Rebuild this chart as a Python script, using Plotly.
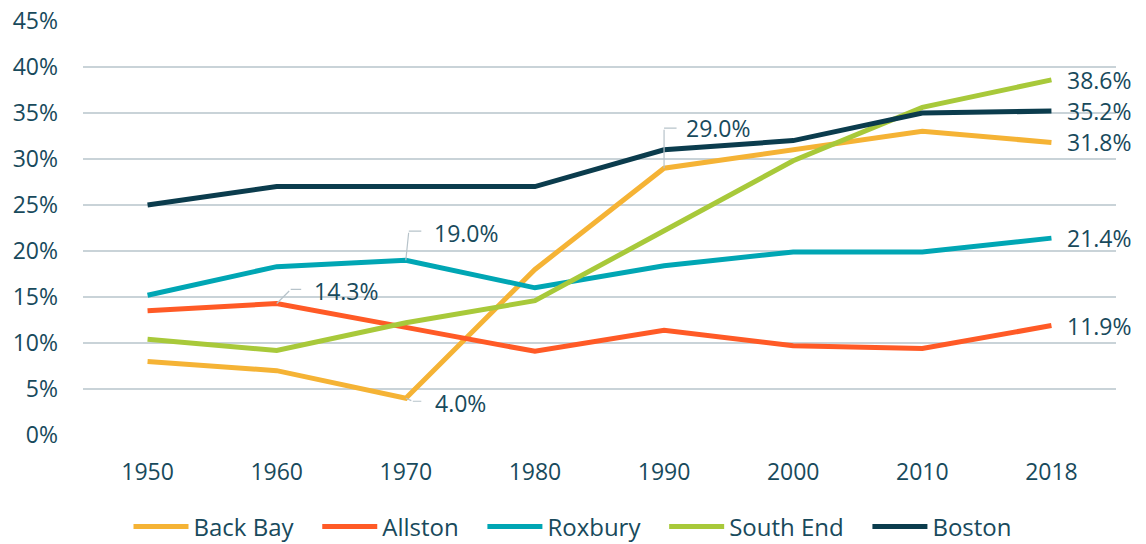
import plotly.graph_objects as go

years = ["1950", "1960", "1970", "1980", "1990", "2000", "2010", "2018"]
back_bay = [8.0, 7.0, 4.0, 18.0, 29.0, 31.0, 33.0, 31.8]
allston = [13.5, 14.3, 11.7, 9.1, 11.4, 9.7, 9.4, 11.9]
roxbury = [15.2, 18.3, 19.0, 16.0, 18.4, 19.9, 19.9, 21.4]
south_end = [10.4, 9.2, 12.2, 14.6, 22.2, 29.8, 35.6, 38.6]
boston = [25.0, 27.0, 27.0, 27.0, 31.0, 32.0, 35.0, 35.2]
y_ticks = [0, 5, 10, 15, 20, 25, 30, 35, 40, 45]

series = [
    ("Back Bay", back_bay, "#f5b335"),
    ("Allston", allston, "#ff5a26"),
    ("Roxbury", roxbury, "#00a6b4"),
    ("South End", south_end, "#a8c93a"),
    ("Boston", boston, "#0b3c4d"),
]

TXT = "#184a5c"
FONT = "Open Sans"
LEAD = "#b7c3ca"
FS = 23

fig = go.Figure()
for k, (name, vals, col) in enumerate(series):
    label = name if k == len(series) - 1 else name + "\u00a0\u00a0\u00a0"
    fig.add_trace(go.Scatter(x=years, y=vals, mode="lines", name=label,
                             line=dict(color=col, width=5)))

last = len(years) - 1
annotations = []
# end labels
for name, vals, col in series:
    annotations.append(dict(x=last, y=vals[last], xref="x", yref="y",
                            text=f"{vals[last]:.1f}%",
                            showarrow=False, xanchor="left", yanchor="middle",
                            xshift=14, font=dict(family=FONT, size=FS, color=TXT)))

# callouts: (series values, index, elbow dx, elbow dy(up), end dx, text xshift, text yshift)
callouts = [
    (allston, 1, 14, 14, 26, 35, 12),
    (roxbury, 2, 3, 29, 17, 26, 27),
    (back_bay, 4, 0, 40, 14, 20, 40),
    (back_bay, 2, 7, -3, 17, 27, -5),
]
for vals, i, dx1, dy1, dx2, xs, ys in callouts:
    annotations.append(dict(x=i, y=vals[i], xref="x", yref="y", text="",
                            showarrow=True, arrowhead=0, arrowwidth=1.2,
                            arrowcolor=LEAD, axref="pixel", ayref="pixel",
                            ax=dx1, ay=-dy1, standoff=0))
    annotations.append(dict(x=i, y=vals[i], xref="x", yref="y", text="",
                            showarrow=True, arrowhead=0, arrowwidth=1.2,
                            arrowcolor=LEAD, axref="pixel", ayref="pixel",
                            xshift=dx1, yshift=dy1,
                            ax=dx2 - dx1, ay=0, standoff=0))
    annotations.append(dict(x=i, y=vals[i], xref="x", yref="y",
                            text=f"{vals[i]:.1f}%",
                            showarrow=False, xanchor="left", yanchor="middle",
                            xshift=xs, yshift=ys,
                            font=dict(family=FONT, size=FS, color=TXT)))

fig.update_layout(
    annotations=annotations,
    width=1146, height=544,
    margin=dict(l=83, r=30, t=20, b=108, autoexpand=False),
    plot_bgcolor="white", paper_bgcolor="white",
    font=dict(family=FONT, size=FS, color=TXT),
    showlegend=True,
    legend=dict(orientation="h", xref="container", x=0.5, xanchor="center",
                yref="container", y=(544 - 527) / 544, yanchor="middle",
                font=dict(family=FONT, size=24, color=TXT),
                itemwidth=55, tracegroupgap=0),
    xaxis=dict(type="category", range=[-0.5, 7.5], showgrid=False,
               showline=False, zeroline=False, ticks="",
               ticklabelstandoff=20, tickfont=dict(size=FS, color=TXT)),
    yaxis=dict(range=[-0.1, 45.1], tickvals=y_ticks,
               ticktext=[f"{v}%" for v in y_ticks],
               showgrid=True, gridcolor="#c9d3d8", gridwidth=1.5,
               zeroline=False, showline=False, ticks="",
               ticklabelstandoff=24, tickfont=dict(size=FS, color=TXT)),
)

fig.write_html("out.html", config={"displayModeBar": False},
               post_script="document.body.style.margin='0';")
